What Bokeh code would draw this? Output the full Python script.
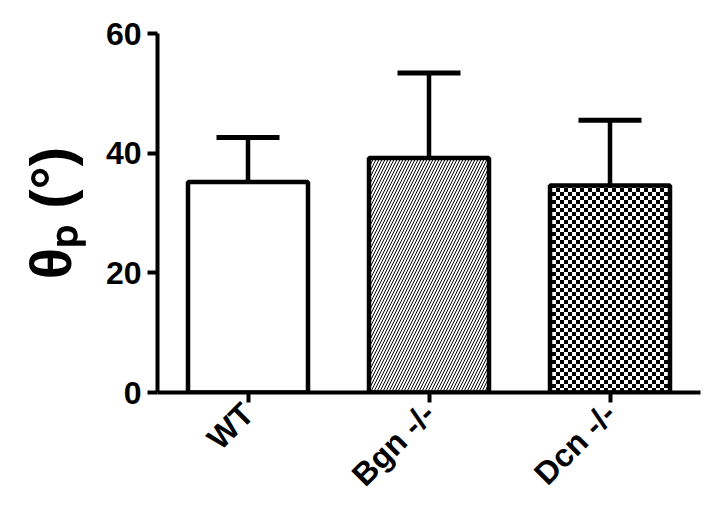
import base64, struct, zlib
from math import pi
from bokeh.plotting import figure
from bokeh.models import (ColumnDataSource, Range1d, FixedTicker, Whisker, TeeHead,
                          ImageURLTexture)
from bokeh.embed import file_html
from bokeh.resources import INLINE

# ---- data ----
categories = ["WT", "Bgn -/-", "Dcn -/-"]
means = [35.2, 39.2, 34.6]
upper_err = [42.6, 53.4, 45.5]
y_ticks = [0, 20, 40, 60]
y_title = "θₚ (°)"

# ---- styles ----
patterns = [" ", "/", "checker"]
FONT = "Liberation Sans"


def checker_png(n=4):
    size = 2 * n
    raw = b""
    for yy in range(size):
        r = b"\x00"
        for xx in range(size):
            black = ((xx // n) + (yy // n)) % 2 == 0
            r += b"\x00\x00\x00" if black else b"\xff\xff\xff"
        raw += r

    def chunk(t, d):
        return struct.pack(">I", len(d)) + t + d + struct.pack(">I", zlib.crc32(t + d) & 0xffffffff)

    png = (b"\x89PNG\r\n\x1a\n"
           + chunk(b"IHDR", struct.pack(">IIBBBBB", size, size, 8, 2, 0, 0, 0))
           + chunk(b"IDAT", zlib.compress(raw))
           + chunk(b"IEND", b""))
    return "data:image/png;base64," + base64.b64encode(png).decode()


H = 520
source = ColumnDataSource(dict(cat=categories, mean=means, up=upper_err, pat=patterns))

p = figure(title=None, x_range=categories, y_range=Range1d(0, 60),
           width=708, height=H, frame_width=543, frame_height=359,
           min_border_left=157, min_border_right=8, min_border_top=33,
           min_border_bottom=H - 33 - 359,
           output_backend="svg", toolbar_location=None)
p.outline_line_color = None
p.grid.visible = False
p.background_fill_color = "white"

p.vbar(x="cat", top="mean", bottom=0, width=0.663, source=source,
       fill_color="white", line_color="black", line_width=4.5,
       hatch_pattern="pat", hatch_color="black", hatch_scale=6, hatch_weight=1,
       hatch_extra={"checker": ImageURLTexture(url=checker_png(4), repetition="repeat")})

w = Whisker(base="cat", lower="mean", upper="up", source=source, dimension="height",
            line_color="black", line_width=4.5,
            upper_head=TeeHead(size=63, line_width=5, line_color="black"),
            lower_head=None)
p.add_layout(w)

for ax in (p.xaxis[0], p.yaxis[0]):
    ax.axis_line_width = 4
    ax.axis_line_color = "black"
    ax.major_tick_line_width = 4
    ax.major_tick_line_color = "black"
    ax.major_tick_out = 10
    ax.major_tick_in = 0
    ax.minor_tick_line_color = None
    ax.major_label_text_font = FONT
    ax.major_label_text_font_style = "bold"
    ax.major_label_text_font_size = "32px"
    ax.major_label_text_color = "black"

p.xaxis[0].axis_label = None
p.yaxis[0].ticker = FixedTicker(ticks=y_ticks)
p.yaxis[0].major_label_standoff = 6
p.yaxis[0].axis_label = y_title
p.yaxis[0].axis_label_text_font = FONT
p.yaxis[0].axis_label_text_font_style = "bold"
p.yaxis[0].axis_label_text_font_size = "58px"
p.yaxis[0].axis_label_text_color = "black"
p.yaxis[0].axis_label_standoff = 20
p.xaxis[0].major_label_orientation = pi / 4
p.xaxis[0].major_label_standoff = 6

open("out.html", "w").write(file_html(p, INLINE))
